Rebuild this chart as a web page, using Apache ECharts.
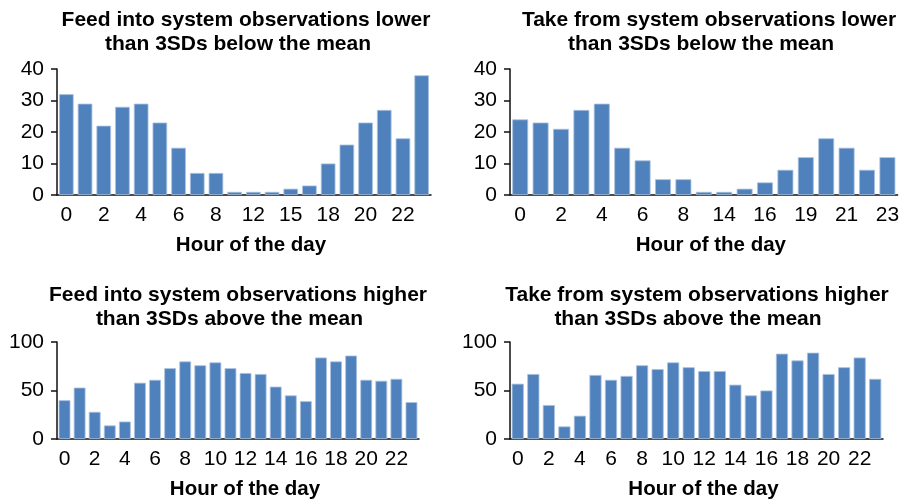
<!DOCTYPE html>
<html>
<head>
<meta charset="utf-8">
<script src="https://cdn.jsdelivr.net/npm/echarts@6/dist/echarts.min.js"></script>
<style>
html,body{margin:0;padding:0;background:#fff;}
#chart{width:902px;height:501px;}
</style>
</head>
<body>
<div id="chart"></div>
<script>
// ---- data ----
var feedLowCats = ['0','1','2','3','4','5','6','7','8','10','12','13','15','17','18','19','20','21','22','23'];
var feedLowVals = [32,29,22,28,29,23,15,7,7,1,1,1,2,3,10,16,23,27,18,38];
var takeLowCats = ['0','1','2','3','4','5','6','7','8','11','14','15','16','17','19','20','21','22','23'];
var takeLowVals = [24,23,21,27,29,15,11,5,5,1,1,2,4,8,12,18,15,8,12];
var hourCats = ['0','1','2','3','4','5','6','7','8','9','10','11','12','13','14','15','16','17','18','19','20','21','22','23'];
var feedHighVals = [40,53,28,14,18,58,61,73,80,76,79,73,68,67,54,45,39,84,80,86,61,60,62,38];
var takeHighVals = [57,67,35,13,24,66,61,65,76,72,79,74,70,70,56,45,50,88,81,89,67,74,84,62];
var titleLines = [
  ['Feed into system observations lower', 'than 3SDs below the mean'],
  ['Take from system observations lower', 'than 3SDs below the mean'],
  ['Feed into system observations higher', 'than 3SDs above the mean'],
  ['Take from system observations higher', 'than 3SDs above the mean']
];
var xName = 'Hour of the day';
var lowAxis = {min: 0, max: 40, interval: 10};
var highAxis = {min: 0, max: 100, interval: 50};

// ---- layout ----
var FONT = 'Liberation Sans, Arial, Helvetica, sans-serif';
var BAR = '#4F81BD';
var grids = [
  {left: 57, top: 69, width: 374, height: 126},
  {left: 510, top: 69, width: 391, height: 126},
  {left: 57, top: 342, width: 362, height: 97},
  {left: 510, top: 342, width: 373, height: 97}
];
var titlePos = [
  [[246, 9.5], [238, 34]],
  [[709, 9.5], [701, 34]],
  [[238, 284.5], [229.5, 309]],
  [[697, 284.5], [688, 309]]
];
var cats = [feedLowCats, takeLowCats, hourCats, hourCats];
var vals = [feedLowVals, takeLowVals, feedHighVals, takeHighVals];
var yScales = [lowAxis, lowAxis, highAxis, highAxis];

var titles = [];
titleLines.forEach(function (lines, i) {
  lines.forEach(function (t, j) {
    titles.push({
      text: t,
      left: titlePos[i][j][0],
      top: titlePos[i][j][1],
      textAlign: 'center',
      padding: 0,
      itemGap: 0,
      textStyle: {fontFamily: FONT, fontSize: 21, fontWeight: 'bold', color: '#000'}
    });
  });
});

var xAxes = [], yAxes = [], series = [];
for (var i = 0; i < 4; i++) {
  xAxes.push({
    type: 'category',
    gridIndex: i,
    data: cats[i],
    name: xName,
    nameLocation: 'middle',
    nameGap: 40,
    nameTextStyle: {fontFamily: FONT, fontSize: 20.5, fontWeight: 'bold', color: '#000', verticalAlign: 'top', padding: [0, 0, 0, 14]},
    axisLine: {show: true, lineStyle: {color: '#111', width: 1.5}},
    axisTick: {show: false},
    axisLabel: {interval: 1, margin: 10, fontFamily: FONT, fontSize: 21, color: '#000'},
    splitLine: {show: false}
  });
  yAxes.push({
    type: 'value',
    gridIndex: i,
    min: yScales[i].min,
    max: yScales[i].max,
    interval: yScales[i].interval,
    axisLine: {show: true, lineStyle: {color: '#111', width: 1.5}},
    axisTick: {show: true, length: 6, inside: false, lineStyle: {color: '#111', width: 1.5}},
    axisLabel: {margin: 13, fontFamily: FONT, fontSize: 21, color: '#000'},
    splitLine: {show: false}
  });
  series.push({
    type: 'bar',
    xAxisIndex: i,
    yAxisIndex: i,
    data: vals[i],
    barCategoryGap: '22%',
    itemStyle: {color: BAR, borderColor: '#a9c1e0', borderWidth: 0.8},
    silent: true,
    animation: false
  });
}

var chart = echarts.init(document.getElementById('chart'), null, {renderer: 'canvas'});
chart.setOption({
  backgroundColor: '#fff',
  animation: false,
  title: titles,
  grid: grids,
  xAxis: xAxes,
  yAxis: yAxes,
  series: series
});
</script>
</body>
</html>
